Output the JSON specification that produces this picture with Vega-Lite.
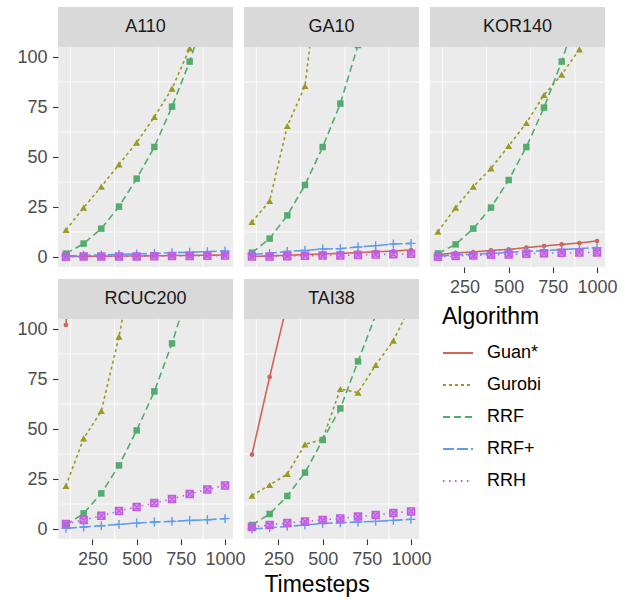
{
  "$schema": "https://vega.github.io/schema/vega-lite/v6.json",
  "padding": {"left": 16, "top": 6, "right": 5, "bottom": 5},
  "data": {"values": [
    {"Instance":"A110","Algorithm":"Guan*","Timestep":100,"Value":0.2},
    {"Instance":"A110","Algorithm":"Guan*","Timestep":200,"Value":0.3},
    {"Instance":"A110","Algorithm":"Guan*","Timestep":300,"Value":0.4},
    {"Instance":"A110","Algorithm":"Guan*","Timestep":400,"Value":0.5},
    {"Instance":"A110","Algorithm":"Guan*","Timestep":500,"Value":0.5},
    {"Instance":"A110","Algorithm":"Guan*","Timestep":600,"Value":0.6},
    {"Instance":"A110","Algorithm":"Guan*","Timestep":700,"Value":0.7},
    {"Instance":"A110","Algorithm":"Guan*","Timestep":800,"Value":0.8},
    {"Instance":"A110","Algorithm":"Guan*","Timestep":900,"Value":0.9},
    {"Instance":"A110","Algorithm":"Guan*","Timestep":1000,"Value":1.0},
    {"Instance":"A110","Algorithm":"Gurobi","Timestep":100,"Value":13.5},
    {"Instance":"A110","Algorithm":"Gurobi","Timestep":200,"Value":24.7},
    {"Instance":"A110","Algorithm":"Gurobi","Timestep":300,"Value":35.2},
    {"Instance":"A110","Algorithm":"Gurobi","Timestep":400,"Value":46.3},
    {"Instance":"A110","Algorithm":"Gurobi","Timestep":500,"Value":57.2},
    {"Instance":"A110","Algorithm":"Gurobi","Timestep":600,"Value":70},
    {"Instance":"A110","Algorithm":"Gurobi","Timestep":700,"Value":84.2},
    {"Instance":"A110","Algorithm":"Gurobi","Timestep":800,"Value":104.3},
    {"Instance":"A110","Algorithm":"Gurobi","Timestep":900,"Value":125},
    {"Instance":"A110","Algorithm":"Gurobi","Timestep":1000,"Value":148},
    {"Instance":"A110","Algorithm":"RRF","Timestep":100,"Value":1.7},
    {"Instance":"A110","Algorithm":"RRF","Timestep":200,"Value":6.7},
    {"Instance":"A110","Algorithm":"RRF","Timestep":300,"Value":14.2},
    {"Instance":"A110","Algorithm":"RRF","Timestep":400,"Value":25.2},
    {"Instance":"A110","Algorithm":"RRF","Timestep":500,"Value":39.2},
    {"Instance":"A110","Algorithm":"RRF","Timestep":600,"Value":55},
    {"Instance":"A110","Algorithm":"RRF","Timestep":700,"Value":75.2},
    {"Instance":"A110","Algorithm":"RRF","Timestep":800,"Value":97.7},
    {"Instance":"A110","Algorithm":"RRF","Timestep":900,"Value":125},
    {"Instance":"A110","Algorithm":"RRF","Timestep":1000,"Value":155},
    {"Instance":"A110","Algorithm":"RRF+","Timestep":100,"Value":0.5},
    {"Instance":"A110","Algorithm":"RRF+","Timestep":200,"Value":0.8},
    {"Instance":"A110","Algorithm":"RRF+","Timestep":300,"Value":1.0},
    {"Instance":"A110","Algorithm":"RRF+","Timestep":400,"Value":1.3},
    {"Instance":"A110","Algorithm":"RRF+","Timestep":500,"Value":1.5},
    {"Instance":"A110","Algorithm":"RRF+","Timestep":600,"Value":1.8},
    {"Instance":"A110","Algorithm":"RRF+","Timestep":700,"Value":2.1},
    {"Instance":"A110","Algorithm":"RRF+","Timestep":800,"Value":2.4},
    {"Instance":"A110","Algorithm":"RRF+","Timestep":900,"Value":2.7},
    {"Instance":"A110","Algorithm":"RRF+","Timestep":1000,"Value":3.0},
    {"Instance":"A110","Algorithm":"RRH","Timestep":100,"Value":0.1},
    {"Instance":"A110","Algorithm":"RRH","Timestep":200,"Value":0.2},
    {"Instance":"A110","Algorithm":"RRH","Timestep":300,"Value":0.2},
    {"Instance":"A110","Algorithm":"RRH","Timestep":400,"Value":0.3},
    {"Instance":"A110","Algorithm":"RRH","Timestep":500,"Value":0.3},
    {"Instance":"A110","Algorithm":"RRH","Timestep":600,"Value":0.4},
    {"Instance":"A110","Algorithm":"RRH","Timestep":700,"Value":0.5},
    {"Instance":"A110","Algorithm":"RRH","Timestep":800,"Value":0.5},
    {"Instance":"A110","Algorithm":"RRH","Timestep":900,"Value":0.6},
    {"Instance":"A110","Algorithm":"RRH","Timestep":1000,"Value":0.7},
    {"Instance":"GA10","Algorithm":"Guan*","Timestep":100,"Value":0.3},
    {"Instance":"GA10","Algorithm":"Guan*","Timestep":200,"Value":0.5},
    {"Instance":"GA10","Algorithm":"Guan*","Timestep":300,"Value":0.9},
    {"Instance":"GA10","Algorithm":"Guan*","Timestep":400,"Value":1.2},
    {"Instance":"GA10","Algorithm":"Guan*","Timestep":500,"Value":1.5},
    {"Instance":"GA10","Algorithm":"Guan*","Timestep":600,"Value":1.8},
    {"Instance":"GA10","Algorithm":"Guan*","Timestep":700,"Value":2.2},
    {"Instance":"GA10","Algorithm":"Guan*","Timestep":800,"Value":2.6},
    {"Instance":"GA10","Algorithm":"Guan*","Timestep":900,"Value":3.0},
    {"Instance":"GA10","Algorithm":"Guan*","Timestep":1000,"Value":3.5},
    {"Instance":"GA10","Algorithm":"Gurobi","Timestep":100,"Value":17.5},
    {"Instance":"GA10","Algorithm":"Gurobi","Timestep":200,"Value":28},
    {"Instance":"GA10","Algorithm":"Gurobi","Timestep":300,"Value":65.5},
    {"Instance":"GA10","Algorithm":"Gurobi","Timestep":400,"Value":85.5},
    {"Instance":"GA10","Algorithm":"Gurobi","Timestep":500,"Value":158},
    {"Instance":"GA10","Algorithm":"RRF","Timestep":100,"Value":2.2},
    {"Instance":"GA10","Algorithm":"RRF","Timestep":200,"Value":9.2},
    {"Instance":"GA10","Algorithm":"RRF","Timestep":300,"Value":20.8},
    {"Instance":"GA10","Algorithm":"RRF","Timestep":400,"Value":36},
    {"Instance":"GA10","Algorithm":"RRF","Timestep":500,"Value":55},
    {"Instance":"GA10","Algorithm":"RRF","Timestep":600,"Value":76.7},
    {"Instance":"GA10","Algorithm":"RRF","Timestep":700,"Value":106},
    {"Instance":"GA10","Algorithm":"RRF","Timestep":800,"Value":140},
    {"Instance":"GA10","Algorithm":"RRF","Timestep":900,"Value":175},
    {"Instance":"GA10","Algorithm":"RRF","Timestep":1000,"Value":210},
    {"Instance":"GA10","Algorithm":"RRF+","Timestep":100,"Value":1.3},
    {"Instance":"GA10","Algorithm":"RRF+","Timestep":200,"Value":1.8},
    {"Instance":"GA10","Algorithm":"RRF+","Timestep":300,"Value":2.8},
    {"Instance":"GA10","Algorithm":"RRF+","Timestep":400,"Value":3.3},
    {"Instance":"GA10","Algorithm":"RRF+","Timestep":500,"Value":4.0},
    {"Instance":"GA10","Algorithm":"RRF+","Timestep":600,"Value":4.2},
    {"Instance":"GA10","Algorithm":"RRF+","Timestep":700,"Value":5.0},
    {"Instance":"GA10","Algorithm":"RRF+","Timestep":800,"Value":5.7},
    {"Instance":"GA10","Algorithm":"RRF+","Timestep":900,"Value":6.5},
    {"Instance":"GA10","Algorithm":"RRF+","Timestep":1000,"Value":6.8},
    {"Instance":"GA10","Algorithm":"RRH","Timestep":100,"Value":0.2},
    {"Instance":"GA10","Algorithm":"RRH","Timestep":200,"Value":0.3},
    {"Instance":"GA10","Algorithm":"RRH","Timestep":300,"Value":0.4},
    {"Instance":"GA10","Algorithm":"RRH","Timestep":400,"Value":0.6},
    {"Instance":"GA10","Algorithm":"RRH","Timestep":500,"Value":0.7},
    {"Instance":"GA10","Algorithm":"RRH","Timestep":600,"Value":0.8},
    {"Instance":"GA10","Algorithm":"RRH","Timestep":700,"Value":1.0},
    {"Instance":"GA10","Algorithm":"RRH","Timestep":800,"Value":1.2},
    {"Instance":"GA10","Algorithm":"RRH","Timestep":900,"Value":1.4},
    {"Instance":"GA10","Algorithm":"RRH","Timestep":1000,"Value":1.6},
    {"Instance":"KOR140","Algorithm":"Guan*","Timestep":100,"Value":1.3},
    {"Instance":"KOR140","Algorithm":"Guan*","Timestep":200,"Value":2.0},
    {"Instance":"KOR140","Algorithm":"Guan*","Timestep":300,"Value":2.5},
    {"Instance":"KOR140","Algorithm":"Guan*","Timestep":400,"Value":3.3},
    {"Instance":"KOR140","Algorithm":"Guan*","Timestep":500,"Value":3.8},
    {"Instance":"KOR140","Algorithm":"Guan*","Timestep":600,"Value":4.7},
    {"Instance":"KOR140","Algorithm":"Guan*","Timestep":700,"Value":5.5},
    {"Instance":"KOR140","Algorithm":"Guan*","Timestep":800,"Value":6.3},
    {"Instance":"KOR140","Algorithm":"Guan*","Timestep":900,"Value":7.0},
    {"Instance":"KOR140","Algorithm":"Guan*","Timestep":1000,"Value":8.0},
    {"Instance":"KOR140","Algorithm":"Gurobi","Timestep":100,"Value":12.7},
    {"Instance":"KOR140","Algorithm":"Gurobi","Timestep":200,"Value":24.7},
    {"Instance":"KOR140","Algorithm":"Gurobi","Timestep":300,"Value":35.2},
    {"Instance":"KOR140","Algorithm":"Gurobi","Timestep":400,"Value":44.3},
    {"Instance":"KOR140","Algorithm":"Gurobi","Timestep":500,"Value":55.5},
    {"Instance":"KOR140","Algorithm":"Gurobi","Timestep":600,"Value":67},
    {"Instance":"KOR140","Algorithm":"Gurobi","Timestep":700,"Value":81},
    {"Instance":"KOR140","Algorithm":"Gurobi","Timestep":800,"Value":91.2},
    {"Instance":"KOR140","Algorithm":"Gurobi","Timestep":900,"Value":103.8},
    {"Instance":"KOR140","Algorithm":"Gurobi","Timestep":1000,"Value":118},
    {"Instance":"KOR140","Algorithm":"RRF","Timestep":100,"Value":1.8},
    {"Instance":"KOR140","Algorithm":"RRF","Timestep":200,"Value":6.3},
    {"Instance":"KOR140","Algorithm":"RRF","Timestep":300,"Value":14.2},
    {"Instance":"KOR140","Algorithm":"RRF","Timestep":400,"Value":24.7},
    {"Instance":"KOR140","Algorithm":"RRF","Timestep":500,"Value":38.5},
    {"Instance":"KOR140","Algorithm":"RRF","Timestep":600,"Value":55},
    {"Instance":"KOR140","Algorithm":"RRF","Timestep":700,"Value":74.7},
    {"Instance":"KOR140","Algorithm":"RRF","Timestep":800,"Value":97.7},
    {"Instance":"KOR140","Algorithm":"RRF","Timestep":900,"Value":125},
    {"Instance":"KOR140","Algorithm":"RRF","Timestep":1000,"Value":155},
    {"Instance":"KOR140","Algorithm":"RRF+","Timestep":100,"Value":0.5},
    {"Instance":"KOR140","Algorithm":"RRF+","Timestep":200,"Value":1.0},
    {"Instance":"KOR140","Algorithm":"RRF+","Timestep":300,"Value":1.4},
    {"Instance":"KOR140","Algorithm":"RRF+","Timestep":400,"Value":1.8},
    {"Instance":"KOR140","Algorithm":"RRF+","Timestep":500,"Value":2.3},
    {"Instance":"KOR140","Algorithm":"RRF+","Timestep":600,"Value":2.8},
    {"Instance":"KOR140","Algorithm":"RRF+","Timestep":700,"Value":3.2},
    {"Instance":"KOR140","Algorithm":"RRF+","Timestep":800,"Value":3.7},
    {"Instance":"KOR140","Algorithm":"RRF+","Timestep":900,"Value":4.2},
    {"Instance":"KOR140","Algorithm":"RRF+","Timestep":1000,"Value":4.7},
    {"Instance":"KOR140","Algorithm":"RRH","Timestep":100,"Value":0.1},
    {"Instance":"KOR140","Algorithm":"RRH","Timestep":200,"Value":0.5},
    {"Instance":"KOR140","Algorithm":"RRH","Timestep":300,"Value":0.8},
    {"Instance":"KOR140","Algorithm":"RRH","Timestep":400,"Value":1.1},
    {"Instance":"KOR140","Algorithm":"RRH","Timestep":500,"Value":1.3},
    {"Instance":"KOR140","Algorithm":"RRH","Timestep":600,"Value":1.6},
    {"Instance":"KOR140","Algorithm":"RRH","Timestep":700,"Value":1.9},
    {"Instance":"KOR140","Algorithm":"RRH","Timestep":800,"Value":2.1},
    {"Instance":"KOR140","Algorithm":"RRH","Timestep":900,"Value":2.2},
    {"Instance":"KOR140","Algorithm":"RRH","Timestep":1000,"Value":2.3},
    {"Instance":"RCUC200","Algorithm":"Guan*","Timestep":100,"Value":102},
    {"Instance":"RCUC200","Algorithm":"Guan*","Timestep":200,"Value":290},
    {"Instance":"RCUC200","Algorithm":"Gurobi","Timestep":100,"Value":21.5},
    {"Instance":"RCUC200","Algorithm":"Gurobi","Timestep":200,"Value":45.3},
    {"Instance":"RCUC200","Algorithm":"Gurobi","Timestep":300,"Value":59},
    {"Instance":"RCUC200","Algorithm":"Gurobi","Timestep":400,"Value":96.2},
    {"Instance":"RCUC200","Algorithm":"Gurobi","Timestep":500,"Value":142},
    {"Instance":"RCUC200","Algorithm":"RRF","Timestep":100,"Value":2},
    {"Instance":"RCUC200","Algorithm":"RRF","Timestep":200,"Value":7.8},
    {"Instance":"RCUC200","Algorithm":"RRF","Timestep":300,"Value":17.8},
    {"Instance":"RCUC200","Algorithm":"RRF","Timestep":400,"Value":31.8},
    {"Instance":"RCUC200","Algorithm":"RRF","Timestep":500,"Value":49.3},
    {"Instance":"RCUC200","Algorithm":"RRF","Timestep":600,"Value":68.8},
    {"Instance":"RCUC200","Algorithm":"RRF","Timestep":700,"Value":92.8},
    {"Instance":"RCUC200","Algorithm":"RRF","Timestep":800,"Value":121},
    {"Instance":"RCUC200","Algorithm":"RRF","Timestep":900,"Value":152},
    {"Instance":"RCUC200","Algorithm":"RRF","Timestep":1000,"Value":185},
    {"Instance":"RCUC200","Algorithm":"RRF+","Timestep":100,"Value":0.3},
    {"Instance":"RCUC200","Algorithm":"RRF+","Timestep":200,"Value":1.0},
    {"Instance":"RCUC200","Algorithm":"RRF+","Timestep":300,"Value":1.6},
    {"Instance":"RCUC200","Algorithm":"RRF+","Timestep":400,"Value":2.3},
    {"Instance":"RCUC200","Algorithm":"RRF+","Timestep":500,"Value":3.0},
    {"Instance":"RCUC200","Algorithm":"RRF+","Timestep":600,"Value":3.5},
    {"Instance":"RCUC200","Algorithm":"RRF+","Timestep":700,"Value":3.8},
    {"Instance":"RCUC200","Algorithm":"RRF+","Timestep":800,"Value":4.3},
    {"Instance":"RCUC200","Algorithm":"RRF+","Timestep":900,"Value":4.6},
    {"Instance":"RCUC200","Algorithm":"RRF+","Timestep":1000,"Value":5.2},
    {"Instance":"RCUC200","Algorithm":"RRH","Timestep":100,"Value":2.5},
    {"Instance":"RCUC200","Algorithm":"RRH","Timestep":200,"Value":4.5},
    {"Instance":"RCUC200","Algorithm":"RRH","Timestep":300,"Value":6.6},
    {"Instance":"RCUC200","Algorithm":"RRH","Timestep":400,"Value":9},
    {"Instance":"RCUC200","Algorithm":"RRH","Timestep":500,"Value":11},
    {"Instance":"RCUC200","Algorithm":"RRH","Timestep":600,"Value":13},
    {"Instance":"RCUC200","Algorithm":"RRH","Timestep":700,"Value":15},
    {"Instance":"RCUC200","Algorithm":"RRH","Timestep":800,"Value":17.5},
    {"Instance":"RCUC200","Algorithm":"RRH","Timestep":900,"Value":19.8},
    {"Instance":"RCUC200","Algorithm":"RRH","Timestep":1000,"Value":21.8},
    {"Instance":"TAI38","Algorithm":"Guan*","Timestep":100,"Value":37.2},
    {"Instance":"TAI38","Algorithm":"Guan*","Timestep":200,"Value":76},
    {"Instance":"TAI38","Algorithm":"Guan*","Timestep":300,"Value":113},
    {"Instance":"TAI38","Algorithm":"Guan*","Timestep":400,"Value":150},
    {"Instance":"TAI38","Algorithm":"Gurobi","Timestep":100,"Value":16.7},
    {"Instance":"TAI38","Algorithm":"Gurobi","Timestep":200,"Value":22},
    {"Instance":"TAI38","Algorithm":"Gurobi","Timestep":300,"Value":27.5},
    {"Instance":"TAI38","Algorithm":"Gurobi","Timestep":400,"Value":42.3},
    {"Instance":"TAI38","Algorithm":"Gurobi","Timestep":500,"Value":44.8},
    {"Instance":"TAI38","Algorithm":"Gurobi","Timestep":600,"Value":70},
    {"Instance":"TAI38","Algorithm":"Gurobi","Timestep":700,"Value":68.2},
    {"Instance":"TAI38","Algorithm":"Gurobi","Timestep":800,"Value":82},
    {"Instance":"TAI38","Algorithm":"Gurobi","Timestep":900,"Value":94.2},
    {"Instance":"TAI38","Algorithm":"Gurobi","Timestep":1000,"Value":112},
    {"Instance":"TAI38","Algorithm":"RRF","Timestep":100,"Value":2},
    {"Instance":"TAI38","Algorithm":"RRF","Timestep":200,"Value":7.5},
    {"Instance":"TAI38","Algorithm":"RRF","Timestep":300,"Value":16.5},
    {"Instance":"TAI38","Algorithm":"RRF","Timestep":400,"Value":28.2},
    {"Instance":"TAI38","Algorithm":"RRF","Timestep":500,"Value":44.5},
    {"Instance":"TAI38","Algorithm":"RRF","Timestep":600,"Value":60.3},
    {"Instance":"TAI38","Algorithm":"RRF","Timestep":700,"Value":83.8},
    {"Instance":"TAI38","Algorithm":"RRF","Timestep":800,"Value":107},
    {"Instance":"TAI38","Algorithm":"RRF","Timestep":900,"Value":135},
    {"Instance":"TAI38","Algorithm":"RRF","Timestep":1000,"Value":165},
    {"Instance":"TAI38","Algorithm":"RRF+","Timestep":100,"Value":0},
    {"Instance":"TAI38","Algorithm":"RRF+","Timestep":200,"Value":0.6},
    {"Instance":"TAI38","Algorithm":"RRF+","Timestep":300,"Value":1.3},
    {"Instance":"TAI38","Algorithm":"RRF+","Timestep":400,"Value":2.0},
    {"Instance":"TAI38","Algorithm":"RRF+","Timestep":500,"Value":2.8},
    {"Instance":"TAI38","Algorithm":"RRF+","Timestep":600,"Value":3.1},
    {"Instance":"TAI38","Algorithm":"RRF+","Timestep":700,"Value":3.5},
    {"Instance":"TAI38","Algorithm":"RRF+","Timestep":800,"Value":3.8},
    {"Instance":"TAI38","Algorithm":"RRF+","Timestep":900,"Value":4.3},
    {"Instance":"TAI38","Algorithm":"RRF+","Timestep":1000,"Value":4.8},
    {"Instance":"TAI38","Algorithm":"RRH","Timestep":100,"Value":1},
    {"Instance":"TAI38","Algorithm":"RRH","Timestep":200,"Value":2},
    {"Instance":"TAI38","Algorithm":"RRH","Timestep":300,"Value":3},
    {"Instance":"TAI38","Algorithm":"RRH","Timestep":400,"Value":3.8},
    {"Instance":"TAI38","Algorithm":"RRH","Timestep":500,"Value":4.5},
    {"Instance":"TAI38","Algorithm":"RRH","Timestep":600,"Value":5.3},
    {"Instance":"TAI38","Algorithm":"RRH","Timestep":700,"Value":6.2},
    {"Instance":"TAI38","Algorithm":"RRH","Timestep":800,"Value":7},
    {"Instance":"TAI38","Algorithm":"RRH","Timestep":900,"Value":8},
    {"Instance":"TAI38","Algorithm":"RRH","Timestep":1000,"Value":8.8}
  ]},
  "columns": 3,
  "spacing": {"row": 12, "column": 11},
  "bounds": "flush",
  "concat": [
    {
      "width": 175, "height": 260,
      "transform": [{"filter": "datum.Instance === 'A110'"}],
      "layer": [
        {"transform": [{"filter": "datum.Algorithm === 'Guan*' && datum.Timestep === 100"}], "mark": {"type": "rule", "color": "#FFFFFF", "strokeWidth": 0.8}, "encoding": {"x": {"datum": 125}}},
        {"transform": [{"filter": "datum.Algorithm === 'Guan*' && datum.Timestep === 100"}], "mark": {"type": "rule", "color": "#FFFFFF", "strokeWidth": 0.8}, "encoding": {"x": {"datum": 375}}},
        {"transform": [{"filter": "datum.Algorithm === 'Guan*' && datum.Timestep === 100"}], "mark": {"type": "rule", "color": "#FFFFFF", "strokeWidth": 0.8}, "encoding": {"x": {"datum": 625}}},
        {"transform": [{"filter": "datum.Algorithm === 'Guan*' && datum.Timestep === 100"}], "mark": {"type": "rule", "color": "#FFFFFF", "strokeWidth": 0.8}, "encoding": {"x": {"datum": 875}}},
        {"transform": [{"filter": "datum.Algorithm === 'Guan*' && datum.Timestep === 100"}], "mark": {"type": "rule", "color": "#FFFFFF", "strokeWidth": 0.8}, "encoding": {"y": {"datum": 12.5}}},
        {"transform": [{"filter": "datum.Algorithm === 'Guan*' && datum.Timestep === 100"}], "mark": {"type": "rule", "color": "#FFFFFF", "strokeWidth": 0.8}, "encoding": {"y": {"datum": 37.5}}},
        {"transform": [{"filter": "datum.Algorithm === 'Guan*' && datum.Timestep === 100"}], "mark": {"type": "rule", "color": "#FFFFFF", "strokeWidth": 0.8}, "encoding": {"y": {"datum": 62.5}}},
        {"transform": [{"filter": "datum.Algorithm === 'Guan*' && datum.Timestep === 100"}], "mark": {"type": "rule", "color": "#FFFFFF", "strokeWidth": 0.8}, "encoding": {"y": {"datum": 87.5}}},
        {"mark": {"type": "line", "strokeWidth": 1.6, "clip": true},
         "encoding": {
           "x": {"field": "Timestep", "type": "quantitative", "scale": {"domain": [55, 1045], "nice": false, "zero": false},
             "axis": {"title": null, "values": [250, 500, 750, 1000], "labels": false, "ticks": false, "gridWidth": 1.6}},
           "y": {"field": "Value", "type": "quantitative", "scale": {"domain": [-5, 125], "nice": false, "zero": false},
             "axis": {"title": null, "format": "d", "values": [0, 25, 50, 75, 100], "gridWidth": 1.6}},
           "stroke": {"field": "Algorithm", "type": "nominal",
             "scale": {"domain": ["Guan*", "Gurobi", "RRF", "RRF+", "RRH"], "range": ["#CF6457", "#9A9A22", "#52AD6C", "#5F9CEB", "#C35CE5"]},
             "legend": {"orient": "none", "legendX": 384, "legendY": 299, "title": "Algorithm", "padding": 0, "symbolType": "stroke",
               "titleFontSize": 23, "titleFontWeight": "normal", "titleColor": "#000000", "titlePadding": 8,
               "labelFontSize": 18, "labelColor": "#000000", "labelOffset": 13,
               "symbolSize": 900, "symbolStrokeWidth": 1.8, "rowPadding": 7}},
           "strokeDash": {"field": "Algorithm", "type": "nominal",
             "scale": {"domain": ["Guan*", "Gurobi", "RRF", "RRF+", "RRH"], "range": [[1, 0], [3, 3], [7, 4], [11, 3], [1.5, 4.5]]},
             "legend": {"orient": "none", "legendX": 384, "legendY": 299, "title": "Algorithm", "padding": 0, "symbolType": "stroke",
               "titleFontSize": 23, "titleFontWeight": "normal", "titleColor": "#000000", "titlePadding": 8,
               "labelFontSize": 18, "labelColor": "#000000", "labelOffset": 13,
               "symbolSize": 900, "symbolStrokeWidth": 1.8, "rowPadding": 7}}}},
        {"transform": [{"filter": "datum.Algorithm === 'Guan*'"}],
         "mark": {"type": "point", "shape": "circle", "filled": true, "size": 22, "color": "#CF6457", "opacity": 1, "clip": true},
         "encoding": {"x": {"field": "Timestep", "type": "quantitative"}, "y": {"field": "Value", "type": "quantitative"}}},
        {"transform": [{"filter": "datum.Algorithm === 'Gurobi'"}],
         "mark": {"type": "point", "shape": "triangle-up", "filled": true, "size": 50, "color": "#9A9A22", "opacity": 1, "clip": true},
         "encoding": {"x": {"field": "Timestep", "type": "quantitative"}, "y": {"field": "Value", "type": "quantitative"}}},
        {"transform": [{"filter": "datum.Algorithm === 'RRF'"}],
         "mark": {"type": "point", "shape": "square", "filled": true, "size": 42, "color": "#52AD6C", "opacity": 1, "clip": true},
         "encoding": {"x": {"field": "Timestep", "type": "quantitative"}, "y": {"field": "Value", "type": "quantitative"}}},
        {"transform": [{"filter": "datum.Algorithm === 'RRF+'"}],
         "mark": {"type": "point", "shape": "M-1,0H1M0,-1V1", "filled": false, "size": 80, "color": "#5F9CEB", "strokeWidth": 1.4, "opacity": 1, "clip": true},
         "encoding": {"x": {"field": "Timestep", "type": "quantitative"}, "y": {"field": "Value", "type": "quantitative"}}},
        {"transform": [{"filter": "datum.Algorithm === 'RRH'"}],
         "mark": {"type": "point", "shape": "M-1,-1H1V1H-1ZM-1,-1L1,1M-1,1L1,-1", "filled": true, "size": 50, "fill": "#C35CE5", "fillOpacity": 0.55, "stroke": "#C35CE5", "strokeWidth": 1.4, "clip": true},
         "encoding": {"x": {"field": "Timestep", "type": "quantitative"}, "y": {"field": "Value", "type": "quantitative"}}},
        {"transform": [{"filter": "datum.Algorithm === 'Guan*' && datum.Timestep === 100"}],
         "mark": {"type": "rect", "color": "#D9D9D9"},
         "encoding": {"y": {"datum": 105}, "y2": {"datum": 125}}},
        {"transform": [{"filter": "datum.Algorithm === 'Guan*' && datum.Timestep === 100"}],
         "mark": {"type": "text", "fontSize": 18, "color": "#1A1A1A", "align": "center", "baseline": "middle"},
         "encoding": {"y": {"datum": 115}, "text": {"field": "Instance"}}}
      ]
    },
    {
      "width": 175, "height": 260,
      "transform": [{"filter": "datum.Instance === 'GA10'"}],
      "layer": [
        {"transform": [{"filter": "datum.Algorithm === 'Guan*' && datum.Timestep === 100"}], "mark": {"type": "rule", "color": "#FFFFFF", "strokeWidth": 0.8}, "encoding": {"x": {"datum": 125}}},
        {"transform": [{"filter": "datum.Algorithm === 'Guan*' && datum.Timestep === 100"}], "mark": {"type": "rule", "color": "#FFFFFF", "strokeWidth": 0.8}, "encoding": {"x": {"datum": 375}}},
        {"transform": [{"filter": "datum.Algorithm === 'Guan*' && datum.Timestep === 100"}], "mark": {"type": "rule", "color": "#FFFFFF", "strokeWidth": 0.8}, "encoding": {"x": {"datum": 625}}},
        {"transform": [{"filter": "datum.Algorithm === 'Guan*' && datum.Timestep === 100"}], "mark": {"type": "rule", "color": "#FFFFFF", "strokeWidth": 0.8}, "encoding": {"x": {"datum": 875}}},
        {"transform": [{"filter": "datum.Algorithm === 'Guan*' && datum.Timestep === 100"}], "mark": {"type": "rule", "color": "#FFFFFF", "strokeWidth": 0.8}, "encoding": {"y": {"datum": 12.5}}},
        {"transform": [{"filter": "datum.Algorithm === 'Guan*' && datum.Timestep === 100"}], "mark": {"type": "rule", "color": "#FFFFFF", "strokeWidth": 0.8}, "encoding": {"y": {"datum": 37.5}}},
        {"transform": [{"filter": "datum.Algorithm === 'Guan*' && datum.Timestep === 100"}], "mark": {"type": "rule", "color": "#FFFFFF", "strokeWidth": 0.8}, "encoding": {"y": {"datum": 62.5}}},
        {"transform": [{"filter": "datum.Algorithm === 'Guan*' && datum.Timestep === 100"}], "mark": {"type": "rule", "color": "#FFFFFF", "strokeWidth": 0.8}, "encoding": {"y": {"datum": 87.5}}},
        {"mark": {"type": "line", "strokeWidth": 1.6, "clip": true},
         "encoding": {
           "x": {"field": "Timestep", "type": "quantitative", "scale": {"domain": [55, 1045], "nice": false, "zero": false},
             "axis": {"title": null, "values": [250, 500, 750, 1000], "labels": false, "ticks": false, "gridWidth": 1.6}},
           "y": {"field": "Value", "type": "quantitative", "scale": {"domain": [-5, 125], "nice": false, "zero": false},
             "axis": {"title": null, "values": [0, 25, 50, 75, 100], "labels": false, "ticks": false, "gridWidth": 1.6}},
           "stroke": {"field": "Algorithm", "type": "nominal",
             "scale": {"domain": ["Guan*", "Gurobi", "RRF", "RRF+", "RRH"], "range": ["#CF6457", "#9A9A22", "#52AD6C", "#5F9CEB", "#C35CE5"]}},
           "strokeDash": {"field": "Algorithm", "type": "nominal",
             "scale": {"domain": ["Guan*", "Gurobi", "RRF", "RRF+", "RRH"], "range": [[1, 0], [3, 3], [7, 4], [11, 3], [1.5, 4.5]]}}}},
        {"transform": [{"filter": "datum.Algorithm === 'Guan*'"}],
         "mark": {"type": "point", "shape": "circle", "filled": true, "size": 22, "color": "#CF6457", "opacity": 1, "clip": true},
         "encoding": {"x": {"field": "Timestep", "type": "quantitative"}, "y": {"field": "Value", "type": "quantitative"}}},
        {"transform": [{"filter": "datum.Algorithm === 'Gurobi'"}],
         "mark": {"type": "point", "shape": "triangle-up", "filled": true, "size": 50, "color": "#9A9A22", "opacity": 1, "clip": true},
         "encoding": {"x": {"field": "Timestep", "type": "quantitative"}, "y": {"field": "Value", "type": "quantitative"}}},
        {"transform": [{"filter": "datum.Algorithm === 'RRF'"}],
         "mark": {"type": "point", "shape": "square", "filled": true, "size": 42, "color": "#52AD6C", "opacity": 1, "clip": true},
         "encoding": {"x": {"field": "Timestep", "type": "quantitative"}, "y": {"field": "Value", "type": "quantitative"}}},
        {"transform": [{"filter": "datum.Algorithm === 'RRF+'"}],
         "mark": {"type": "point", "shape": "M-1,0H1M0,-1V1", "filled": false, "size": 80, "color": "#5F9CEB", "strokeWidth": 1.4, "opacity": 1, "clip": true},
         "encoding": {"x": {"field": "Timestep", "type": "quantitative"}, "y": {"field": "Value", "type": "quantitative"}}},
        {"transform": [{"filter": "datum.Algorithm === 'RRH'"}],
         "mark": {"type": "point", "shape": "M-1,-1H1V1H-1ZM-1,-1L1,1M-1,1L1,-1", "filled": true, "size": 50, "fill": "#C35CE5", "fillOpacity": 0.55, "stroke": "#C35CE5", "strokeWidth": 1.4, "clip": true},
         "encoding": {"x": {"field": "Timestep", "type": "quantitative"}, "y": {"field": "Value", "type": "quantitative"}}},
        {"transform": [{"filter": "datum.Algorithm === 'Guan*' && datum.Timestep === 100"}],
         "mark": {"type": "rect", "color": "#D9D9D9"},
         "encoding": {"y": {"datum": 105}, "y2": {"datum": 125}}},
        {"transform": [{"filter": "datum.Algorithm === 'Guan*' && datum.Timestep === 100"}],
         "mark": {"type": "text", "fontSize": 18, "color": "#1A1A1A", "align": "center", "baseline": "middle"},
         "encoding": {"y": {"datum": 115}, "text": {"field": "Instance"}}}
      ]
    },
    {
      "width": 175, "height": 260,
      "transform": [{"filter": "datum.Instance === 'KOR140'"}],
      "layer": [
        {"transform": [{"filter": "datum.Algorithm === 'Guan*' && datum.Timestep === 100"}], "mark": {"type": "rule", "color": "#FFFFFF", "strokeWidth": 0.8}, "encoding": {"x": {"datum": 125}}},
        {"transform": [{"filter": "datum.Algorithm === 'Guan*' && datum.Timestep === 100"}], "mark": {"type": "rule", "color": "#FFFFFF", "strokeWidth": 0.8}, "encoding": {"x": {"datum": 375}}},
        {"transform": [{"filter": "datum.Algorithm === 'Guan*' && datum.Timestep === 100"}], "mark": {"type": "rule", "color": "#FFFFFF", "strokeWidth": 0.8}, "encoding": {"x": {"datum": 625}}},
        {"transform": [{"filter": "datum.Algorithm === 'Guan*' && datum.Timestep === 100"}], "mark": {"type": "rule", "color": "#FFFFFF", "strokeWidth": 0.8}, "encoding": {"x": {"datum": 875}}},
        {"transform": [{"filter": "datum.Algorithm === 'Guan*' && datum.Timestep === 100"}], "mark": {"type": "rule", "color": "#FFFFFF", "strokeWidth": 0.8}, "encoding": {"y": {"datum": 12.5}}},
        {"transform": [{"filter": "datum.Algorithm === 'Guan*' && datum.Timestep === 100"}], "mark": {"type": "rule", "color": "#FFFFFF", "strokeWidth": 0.8}, "encoding": {"y": {"datum": 37.5}}},
        {"transform": [{"filter": "datum.Algorithm === 'Guan*' && datum.Timestep === 100"}], "mark": {"type": "rule", "color": "#FFFFFF", "strokeWidth": 0.8}, "encoding": {"y": {"datum": 62.5}}},
        {"transform": [{"filter": "datum.Algorithm === 'Guan*' && datum.Timestep === 100"}], "mark": {"type": "rule", "color": "#FFFFFF", "strokeWidth": 0.8}, "encoding": {"y": {"datum": 87.5}}},
        {"mark": {"type": "line", "strokeWidth": 1.6, "clip": true},
         "encoding": {
           "x": {"field": "Timestep", "type": "quantitative", "scale": {"domain": [55, 1045], "nice": false, "zero": false},
             "axis": {"title": null, "format": "d", "values": [250, 500, 750, 1000], "gridWidth": 1.6}},
           "y": {"field": "Value", "type": "quantitative", "scale": {"domain": [-5, 125], "nice": false, "zero": false},
             "axis": {"title": null, "values": [0, 25, 50, 75, 100], "labels": false, "ticks": false, "gridWidth": 1.6}},
           "stroke": {"field": "Algorithm", "type": "nominal",
             "scale": {"domain": ["Guan*", "Gurobi", "RRF", "RRF+", "RRH"], "range": ["#CF6457", "#9A9A22", "#52AD6C", "#5F9CEB", "#C35CE5"]}},
           "strokeDash": {"field": "Algorithm", "type": "nominal",
             "scale": {"domain": ["Guan*", "Gurobi", "RRF", "RRF+", "RRH"], "range": [[1, 0], [3, 3], [7, 4], [11, 3], [1.5, 4.5]]}}}},
        {"transform": [{"filter": "datum.Algorithm === 'Guan*'"}],
         "mark": {"type": "point", "shape": "circle", "filled": true, "size": 22, "color": "#CF6457", "opacity": 1, "clip": true},
         "encoding": {"x": {"field": "Timestep", "type": "quantitative"}, "y": {"field": "Value", "type": "quantitative"}}},
        {"transform": [{"filter": "datum.Algorithm === 'Gurobi'"}],
         "mark": {"type": "point", "shape": "triangle-up", "filled": true, "size": 50, "color": "#9A9A22", "opacity": 1, "clip": true},
         "encoding": {"x": {"field": "Timestep", "type": "quantitative"}, "y": {"field": "Value", "type": "quantitative"}}},
        {"transform": [{"filter": "datum.Algorithm === 'RRF'"}],
         "mark": {"type": "point", "shape": "square", "filled": true, "size": 42, "color": "#52AD6C", "opacity": 1, "clip": true},
         "encoding": {"x": {"field": "Timestep", "type": "quantitative"}, "y": {"field": "Value", "type": "quantitative"}}},
        {"transform": [{"filter": "datum.Algorithm === 'RRF+'"}],
         "mark": {"type": "point", "shape": "M-1,0H1M0,-1V1", "filled": false, "size": 80, "color": "#5F9CEB", "strokeWidth": 1.4, "opacity": 1, "clip": true},
         "encoding": {"x": {"field": "Timestep", "type": "quantitative"}, "y": {"field": "Value", "type": "quantitative"}}},
        {"transform": [{"filter": "datum.Algorithm === 'RRH'"}],
         "mark": {"type": "point", "shape": "M-1,-1H1V1H-1ZM-1,-1L1,1M-1,1L1,-1", "filled": true, "size": 50, "fill": "#C35CE5", "fillOpacity": 0.55, "stroke": "#C35CE5", "strokeWidth": 1.4, "clip": true},
         "encoding": {"x": {"field": "Timestep", "type": "quantitative"}, "y": {"field": "Value", "type": "quantitative"}}},
        {"transform": [{"filter": "datum.Algorithm === 'Guan*' && datum.Timestep === 100"}],
         "mark": {"type": "rect", "color": "#D9D9D9"},
         "encoding": {"y": {"datum": 105}, "y2": {"datum": 125}}},
        {"transform": [{"filter": "datum.Algorithm === 'Guan*' && datum.Timestep === 100"}],
         "mark": {"type": "text", "fontSize": 18, "color": "#1A1A1A", "align": "center", "baseline": "middle"},
         "encoding": {"y": {"datum": 115}, "text": {"field": "Instance"}}}
      ]
    },
    {
      "width": 175, "height": 260,
      "transform": [{"filter": "datum.Instance === 'RCUC200'"}],
      "layer": [
        {"transform": [{"filter": "datum.Algorithm === 'Guan*' && datum.Timestep === 100"}], "mark": {"type": "rule", "color": "#FFFFFF", "strokeWidth": 0.8}, "encoding": {"x": {"datum": 125}}},
        {"transform": [{"filter": "datum.Algorithm === 'Guan*' && datum.Timestep === 100"}], "mark": {"type": "rule", "color": "#FFFFFF", "strokeWidth": 0.8}, "encoding": {"x": {"datum": 375}}},
        {"transform": [{"filter": "datum.Algorithm === 'Guan*' && datum.Timestep === 100"}], "mark": {"type": "rule", "color": "#FFFFFF", "strokeWidth": 0.8}, "encoding": {"x": {"datum": 625}}},
        {"transform": [{"filter": "datum.Algorithm === 'Guan*' && datum.Timestep === 100"}], "mark": {"type": "rule", "color": "#FFFFFF", "strokeWidth": 0.8}, "encoding": {"x": {"datum": 875}}},
        {"transform": [{"filter": "datum.Algorithm === 'Guan*' && datum.Timestep === 100"}], "mark": {"type": "rule", "color": "#FFFFFF", "strokeWidth": 0.8}, "encoding": {"y": {"datum": 12.5}}},
        {"transform": [{"filter": "datum.Algorithm === 'Guan*' && datum.Timestep === 100"}], "mark": {"type": "rule", "color": "#FFFFFF", "strokeWidth": 0.8}, "encoding": {"y": {"datum": 37.5}}},
        {"transform": [{"filter": "datum.Algorithm === 'Guan*' && datum.Timestep === 100"}], "mark": {"type": "rule", "color": "#FFFFFF", "strokeWidth": 0.8}, "encoding": {"y": {"datum": 62.5}}},
        {"transform": [{"filter": "datum.Algorithm === 'Guan*' && datum.Timestep === 100"}], "mark": {"type": "rule", "color": "#FFFFFF", "strokeWidth": 0.8}, "encoding": {"y": {"datum": 87.5}}},
        {"mark": {"type": "line", "strokeWidth": 1.6, "clip": true},
         "encoding": {
           "x": {"field": "Timestep", "type": "quantitative", "scale": {"domain": [55, 1045], "nice": false, "zero": false},
             "axis": {"title": null, "format": "d", "values": [250, 500, 750, 1000], "gridWidth": 1.6}},
           "y": {"field": "Value", "type": "quantitative", "scale": {"domain": [-5, 125], "nice": false, "zero": false},
             "axis": {"title": null, "format": "d", "values": [0, 25, 50, 75, 100], "gridWidth": 1.6}},
           "stroke": {"field": "Algorithm", "type": "nominal",
             "scale": {"domain": ["Guan*", "Gurobi", "RRF", "RRF+", "RRH"], "range": ["#CF6457", "#9A9A22", "#52AD6C", "#5F9CEB", "#C35CE5"]}},
           "strokeDash": {"field": "Algorithm", "type": "nominal",
             "scale": {"domain": ["Guan*", "Gurobi", "RRF", "RRF+", "RRH"], "range": [[1, 0], [3, 3], [7, 4], [11, 3], [1.5, 4.5]]}}}},
        {"transform": [{"filter": "datum.Algorithm === 'Guan*'"}],
         "mark": {"type": "point", "shape": "circle", "filled": true, "size": 22, "color": "#CF6457", "opacity": 1, "clip": true},
         "encoding": {"x": {"field": "Timestep", "type": "quantitative"}, "y": {"field": "Value", "type": "quantitative"}}},
        {"transform": [{"filter": "datum.Algorithm === 'Gurobi'"}],
         "mark": {"type": "point", "shape": "triangle-up", "filled": true, "size": 50, "color": "#9A9A22", "opacity": 1, "clip": true},
         "encoding": {"x": {"field": "Timestep", "type": "quantitative"}, "y": {"field": "Value", "type": "quantitative"}}},
        {"transform": [{"filter": "datum.Algorithm === 'RRF'"}],
         "mark": {"type": "point", "shape": "square", "filled": true, "size": 42, "color": "#52AD6C", "opacity": 1, "clip": true},
         "encoding": {"x": {"field": "Timestep", "type": "quantitative"}, "y": {"field": "Value", "type": "quantitative"}}},
        {"transform": [{"filter": "datum.Algorithm === 'RRF+'"}],
         "mark": {"type": "point", "shape": "M-1,0H1M0,-1V1", "filled": false, "size": 80, "color": "#5F9CEB", "strokeWidth": 1.4, "opacity": 1, "clip": true},
         "encoding": {"x": {"field": "Timestep", "type": "quantitative"}, "y": {"field": "Value", "type": "quantitative"}}},
        {"transform": [{"filter": "datum.Algorithm === 'RRH'"}],
         "mark": {"type": "point", "shape": "M-1,-1H1V1H-1ZM-1,-1L1,1M-1,1L1,-1", "filled": true, "size": 50, "fill": "#C35CE5", "fillOpacity": 0.55, "stroke": "#C35CE5", "strokeWidth": 1.4, "clip": true},
         "encoding": {"x": {"field": "Timestep", "type": "quantitative"}, "y": {"field": "Value", "type": "quantitative"}}},
        {"transform": [{"filter": "datum.Algorithm === 'Guan*' && datum.Timestep === 100"}],
         "mark": {"type": "rect", "color": "#D9D9D9"},
         "encoding": {"y": {"datum": 105}, "y2": {"datum": 125}}},
        {"transform": [{"filter": "datum.Algorithm === 'Guan*' && datum.Timestep === 100"}],
         "mark": {"type": "text", "fontSize": 18, "color": "#1A1A1A", "align": "center", "baseline": "middle"},
         "encoding": {"y": {"datum": 115}, "text": {"field": "Instance"}}}
      ]
    },
    {
      "width": 175, "height": 260,
      "transform": [{"filter": "datum.Instance === 'TAI38'"}],
      "layer": [
        {"transform": [{"filter": "datum.Algorithm === 'Guan*' && datum.Timestep === 100"}], "mark": {"type": "rule", "color": "#FFFFFF", "strokeWidth": 0.8}, "encoding": {"x": {"datum": 125}}},
        {"transform": [{"filter": "datum.Algorithm === 'Guan*' && datum.Timestep === 100"}], "mark": {"type": "rule", "color": "#FFFFFF", "strokeWidth": 0.8}, "encoding": {"x": {"datum": 375}}},
        {"transform": [{"filter": "datum.Algorithm === 'Guan*' && datum.Timestep === 100"}], "mark": {"type": "rule", "color": "#FFFFFF", "strokeWidth": 0.8}, "encoding": {"x": {"datum": 625}}},
        {"transform": [{"filter": "datum.Algorithm === 'Guan*' && datum.Timestep === 100"}], "mark": {"type": "rule", "color": "#FFFFFF", "strokeWidth": 0.8}, "encoding": {"x": {"datum": 875}}},
        {"transform": [{"filter": "datum.Algorithm === 'Guan*' && datum.Timestep === 100"}], "mark": {"type": "rule", "color": "#FFFFFF", "strokeWidth": 0.8}, "encoding": {"y": {"datum": 12.5}}},
        {"transform": [{"filter": "datum.Algorithm === 'Guan*' && datum.Timestep === 100"}], "mark": {"type": "rule", "color": "#FFFFFF", "strokeWidth": 0.8}, "encoding": {"y": {"datum": 37.5}}},
        {"transform": [{"filter": "datum.Algorithm === 'Guan*' && datum.Timestep === 100"}], "mark": {"type": "rule", "color": "#FFFFFF", "strokeWidth": 0.8}, "encoding": {"y": {"datum": 62.5}}},
        {"transform": [{"filter": "datum.Algorithm === 'Guan*' && datum.Timestep === 100"}], "mark": {"type": "rule", "color": "#FFFFFF", "strokeWidth": 0.8}, "encoding": {"y": {"datum": 87.5}}},
        {"mark": {"type": "line", "strokeWidth": 1.6, "clip": true},
         "encoding": {
           "x": {"field": "Timestep", "type": "quantitative", "scale": {"domain": [55, 1045], "nice": false, "zero": false},
             "axis": {"title": null, "format": "d", "values": [250, 500, 750, 1000], "gridWidth": 1.6}},
           "y": {"field": "Value", "type": "quantitative", "scale": {"domain": [-5, 125], "nice": false, "zero": false},
             "axis": {"title": null, "values": [0, 25, 50, 75, 100], "labels": false, "ticks": false, "gridWidth": 1.6}},
           "stroke": {"field": "Algorithm", "type": "nominal",
             "scale": {"domain": ["Guan*", "Gurobi", "RRF", "RRF+", "RRH"], "range": ["#CF6457", "#9A9A22", "#52AD6C", "#5F9CEB", "#C35CE5"]}},
           "strokeDash": {"field": "Algorithm", "type": "nominal",
             "scale": {"domain": ["Guan*", "Gurobi", "RRF", "RRF+", "RRH"], "range": [[1, 0], [3, 3], [7, 4], [11, 3], [1.5, 4.5]]}}}},
        {"transform": [{"filter": "datum.Algorithm === 'Guan*'"}],
         "mark": {"type": "point", "shape": "circle", "filled": true, "size": 22, "color": "#CF6457", "opacity": 1, "clip": true},
         "encoding": {"x": {"field": "Timestep", "type": "quantitative"}, "y": {"field": "Value", "type": "quantitative"}}},
        {"transform": [{"filter": "datum.Algorithm === 'Gurobi'"}],
         "mark": {"type": "point", "shape": "triangle-up", "filled": true, "size": 50, "color": "#9A9A22", "opacity": 1, "clip": true},
         "encoding": {"x": {"field": "Timestep", "type": "quantitative"}, "y": {"field": "Value", "type": "quantitative"}}},
        {"transform": [{"filter": "datum.Algorithm === 'RRF'"}],
         "mark": {"type": "point", "shape": "square", "filled": true, "size": 42, "color": "#52AD6C", "opacity": 1, "clip": true},
         "encoding": {"x": {"field": "Timestep", "type": "quantitative"}, "y": {"field": "Value", "type": "quantitative"}}},
        {"transform": [{"filter": "datum.Algorithm === 'RRF+'"}],
         "mark": {"type": "point", "shape": "M-1,0H1M0,-1V1", "filled": false, "size": 80, "color": "#5F9CEB", "strokeWidth": 1.4, "opacity": 1, "clip": true},
         "encoding": {"x": {"field": "Timestep", "type": "quantitative"}, "y": {"field": "Value", "type": "quantitative"}}},
        {"transform": [{"filter": "datum.Algorithm === 'RRH'"}],
         "mark": {"type": "point", "shape": "M-1,-1H1V1H-1ZM-1,-1L1,1M-1,1L1,-1", "filled": true, "size": 50, "fill": "#C35CE5", "fillOpacity": 0.55, "stroke": "#C35CE5", "strokeWidth": 1.4, "clip": true},
         "encoding": {"x": {"field": "Timestep", "type": "quantitative"}, "y": {"field": "Value", "type": "quantitative"}}},
        {"transform": [{"filter": "datum.Algorithm === 'Guan*' && datum.Timestep === 100"}],
         "mark": {"type": "rect", "color": "#D9D9D9"},
         "encoding": {"y": {"datum": 105}, "y2": {"datum": 125}}},
        {"transform": [{"filter": "datum.Algorithm === 'Guan*' && datum.Timestep === 100"}],
         "mark": {"type": "text", "fontSize": 18, "color": "#1A1A1A", "align": "center", "baseline": "middle"},
         "encoding": {"y": {"datum": 115}, "text": {"field": "Instance"}}}
      ]
    }
  ],
  "title": {"text": "Timesteps", "orient": "bottom", "anchor": "middle", "fontSize": 23, "fontWeight": "normal", "color": "#000000", "offset": 6},
  "config": {
    "font": "Liberation Sans",
    "view": {"fill": "#EBEBEB", "stroke": null},
    "axis": {"domain": false, "labelFontSize": 18, "labelColor": "#4D4D4D", "tickColor": "#333333", "tickSize": 5.5, "tickWidth": 1.1, "gridColor": "#FFFFFF", "labelPadding": 5.5, "labelOverlap": false, "labelFlush": false}
  }
}
